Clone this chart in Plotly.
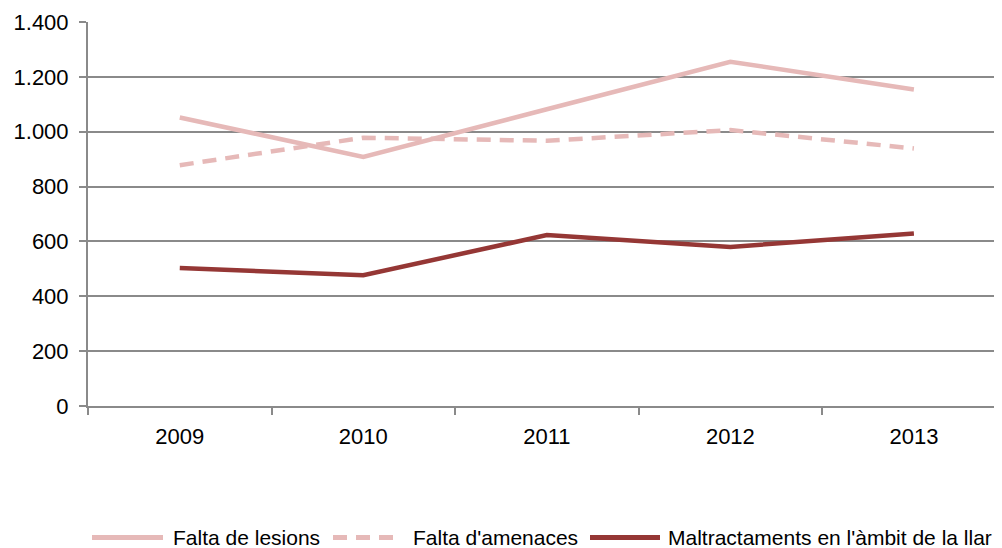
import plotly.graph_objects as go

years = ["2009", "2010", "2011", "2012", "2013"]
falta_lesions = [1052, 908, 1082, 1255, 1154]
falta_amenaces = [878, 978, 967, 1006, 939]
maltractaments = [503, 477, 623, 580, 629]
series_names = ["Falta de lesions", "Falta d'amenaces", "Maltractaments en l'àmbit de la llar"]
y_ticks = [0, 200, 400, 600, 800, 1000, 1200, 1400]
y_tick_text = ["0", "200", "400", "600", "800", "1.000", "1.200", "1.400"]

LIGHT = "#E6B9B8"
DARK = "#953735"
GRID = "#8a8a8a"
FONT = "Liberation Sans, Arial, sans-serif"

OFF = 8  # browser body margin
W, H = 1002 - OFF, 548 - OFF
ML, MR, MT, MB = 88 - OFF, 0, 22 - OFF, 142
PW = W - ML - MR
PH = H - MT - MB

fig = go.Figure()
fig.add_trace(go.Scatter(x=years, y=falta_lesions, mode="lines", name=series_names[0],
                         line=dict(color=LIGHT, width=4.5), showlegend=False))
fig.add_trace(go.Scatter(x=years, y=falta_amenaces, mode="lines", name=series_names[1],
                         line=dict(color=LIGHT, width=4.5, dash="14px,9px"), showlegend=False))
fig.add_trace(go.Scatter(x=years, y=maltractaments, mode="lines", name=series_names[2],
                         line=dict(color=DARK, width=4.5), showlegend=False))

def px_x(p):
    return (p - OFF - ML) / PW

def px_y(p):
    return (H - MB - (p - OFF)) / PH

# manual legend (long line samples like the reference)
legend_items = [
    (92, 163, 171, LIGHT, "solid", series_names[0]),
    (333, 400, 411, LIGHT, "dash", series_names[1]),
    (590, 660, 666, DARK, "solid", series_names[2]),
]
ly = 537.5
shapes = []
annotations = []
for x0, x1, tx, col, dash, name in legend_items:
    shapes.append(dict(type="line", xref="paper", yref="paper",
                       x0=px_x(x0), x1=px_x(x1), y0=px_y(ly), y1=px_y(ly),
                       line=dict(color=col, width=5, dash=dash if dash == "solid" else "14px,9px")))
    annotations.append(dict(xref="paper", yref="paper", x=px_x(tx), y=px_y(ly),
                            xanchor="left", yanchor="middle", text=name, showarrow=False,
                            font=dict(family=FONT, size=21, color="#000000")))

fig.update_layout(
    width=W, height=H,
    margin=dict(l=ML, r=MR, t=MT, b=MB),
    paper_bgcolor="white", plot_bgcolor="white",
    font=dict(family=FONT, size=22, color="#000000"),
    shapes=shapes, annotations=annotations,
    showlegend=False,
)
fig.update_xaxes(type="category", range=[-0.5, 4.48], showgrid=False,
                 showline=True, linecolor=GRID, linewidth=2,
                 ticks="outside", tickson="boundaries", ticklen=7, tickcolor=GRID, tickwidth=2,
                 ticklabelstandoff=10, tickfont=dict(size=22))
fig.update_yaxes(range=[0, 1400], tickvals=y_ticks, ticktext=y_tick_text,
                 showgrid=True, gridcolor=GRID, gridwidth=1.5,
                 showline=True, linecolor=GRID, linewidth=2, zeroline=False,
                 ticks="outside", ticklen=7, tickcolor=GRID, tickwidth=2,
                 ticklabelstandoff=6, tickfont=dict(size=22))

fig.write_html("out.html")
